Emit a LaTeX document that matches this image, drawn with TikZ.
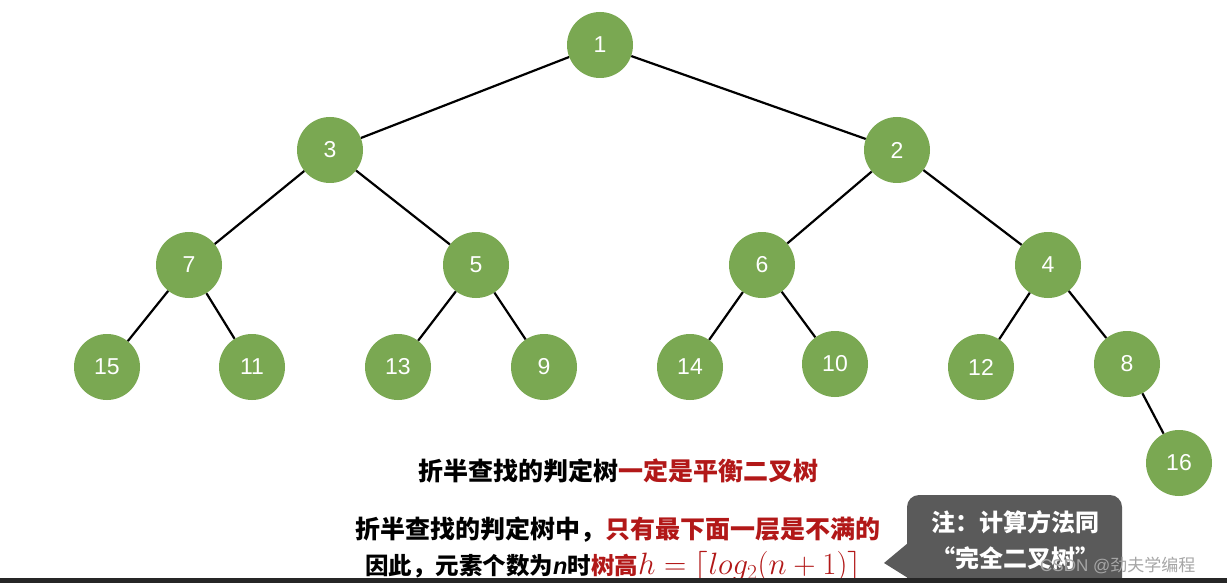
\documentclass[tikz,border=0pt]{standalone}
\usepackage{graphicx}
\usepackage{fontspec}
\newfontfamily\cjk{Noto Sans CJK SC}
\newfontfamily\numfont{Liberation Sans}
\definecolor{treegreen}{RGB}{122,168,82}
\definecolor{darkred}{RGB}{178,24,24}
\definecolor{calloutgray}{RGB}{90,90,90}
\begin{document}
\begin{tikzpicture}[x=1pt,y=-1pt,
  tn/.style={circle, fill=treegreen, minimum size=66pt, inner sep=0pt, text=white, font=\numfont\fontsize{23}{25}\selectfont},
  edge/.style={draw=black, line width=2.2pt},
  cjktext/.style={font=\cjk\bfseries\fontsize{25}{28}\selectfont, inner sep=0pt}
]
\useasboundingbox (0,0) rectangle (1227,583);
\fill[white] (0,0) rectangle (1227,583);
% nodes
\node[tn] (n1) at (600,45) {1};
\node[tn] (n3) at (330,150) {3};
\node[tn] (n2) at (897,150) {2};
\node[tn] (n7) at (189,265) {7};
\node[tn] (n5) at (476,265) {5};
\node[tn] (n6) at (762,265) {6};
\node[tn] (n4) at (1048,265) {4};
\node[tn] (n15) at (107,367) {15};
\node[tn] (n11) at (252,367) {11};
\node[tn] (n13) at (398,367) {13};
\node[tn] (n9) at (544,367) {9};
\node[tn] (n14) at (690,367) {14};
\node[tn] (n10) at (835,364) {10};
\node[tn] (n12) at (981,367) {12};
\node[tn] (n8) at (1127,364) {8};
\node[tn] (n16) at (1179,463) {16};
% edges
\draw[edge] (n1) -- (n3);
\draw[edge] (n1) -- (n2);
\draw[edge] (n3) -- (n7);
\draw[edge] (n3) -- (n5);
\draw[edge] (n2) -- (n6);
\draw[edge] (n2) -- (n4);
\draw[edge] (n7) -- (n15);
\draw[edge] (n7) -- (n11);
\draw[edge] (n5) -- (n13);
\draw[edge] (n5) -- (n9);
\draw[edge] (n6) -- (n14);
\draw[edge] (n6) -- (n10);
\draw[edge] (n4) -- (n12);
\draw[edge] (n4) -- (n8);
\draw[edge] (n8) -- (n16);
% texts
\node[cjktext] (t1) at (618,471) {折半查找的判定树\textcolor{darkred}{一定是平衡二叉树}};
\node[cjktext] (t2) at (618,530) {折半查找的判定树中，\textcolor{darkred}{只有最下面一层是不满的}};
\node[cjktext, font=\cjk\bfseries\fontsize{23.5}{28}\selectfont, anchor=west] (t3) at (365,567) {因此，元素个数为{\numfont\bfseries\itshape n}时\textcolor{darkred}{树高\scalebox{1.24}{$h=\lceil log_2(n+1)\rceil$}}};
% callout
\fill[calloutgray, rounded corners=12pt] (907,495) rectangle (1122,600);
\fill[calloutgray] (908,543) -- (884,563) -- (908,578) -- cycle;
\node[cjktext, text=white, font=\cjk\bfseries\fontsize{24}{28}\selectfont] (c1) at (1015,522) {注：计算方法同};
\node[cjktext, text=white, font=\cjk\bfseries\fontsize{24}{28}\selectfont] (c2) at (1015,558) {“完全二叉树”};
% watermark
\node[font=\numfont\fontsize{17}{19}\selectfont, text=gray!70, anchor=west, inner sep=0pt] (wm) at (1040,565) {CSDN @{\cjk 劲夫学编程}};
% bottom bar
\fill[black!85] (0,578) rectangle (1227,583);
\end{tikzpicture}
\end{document}
